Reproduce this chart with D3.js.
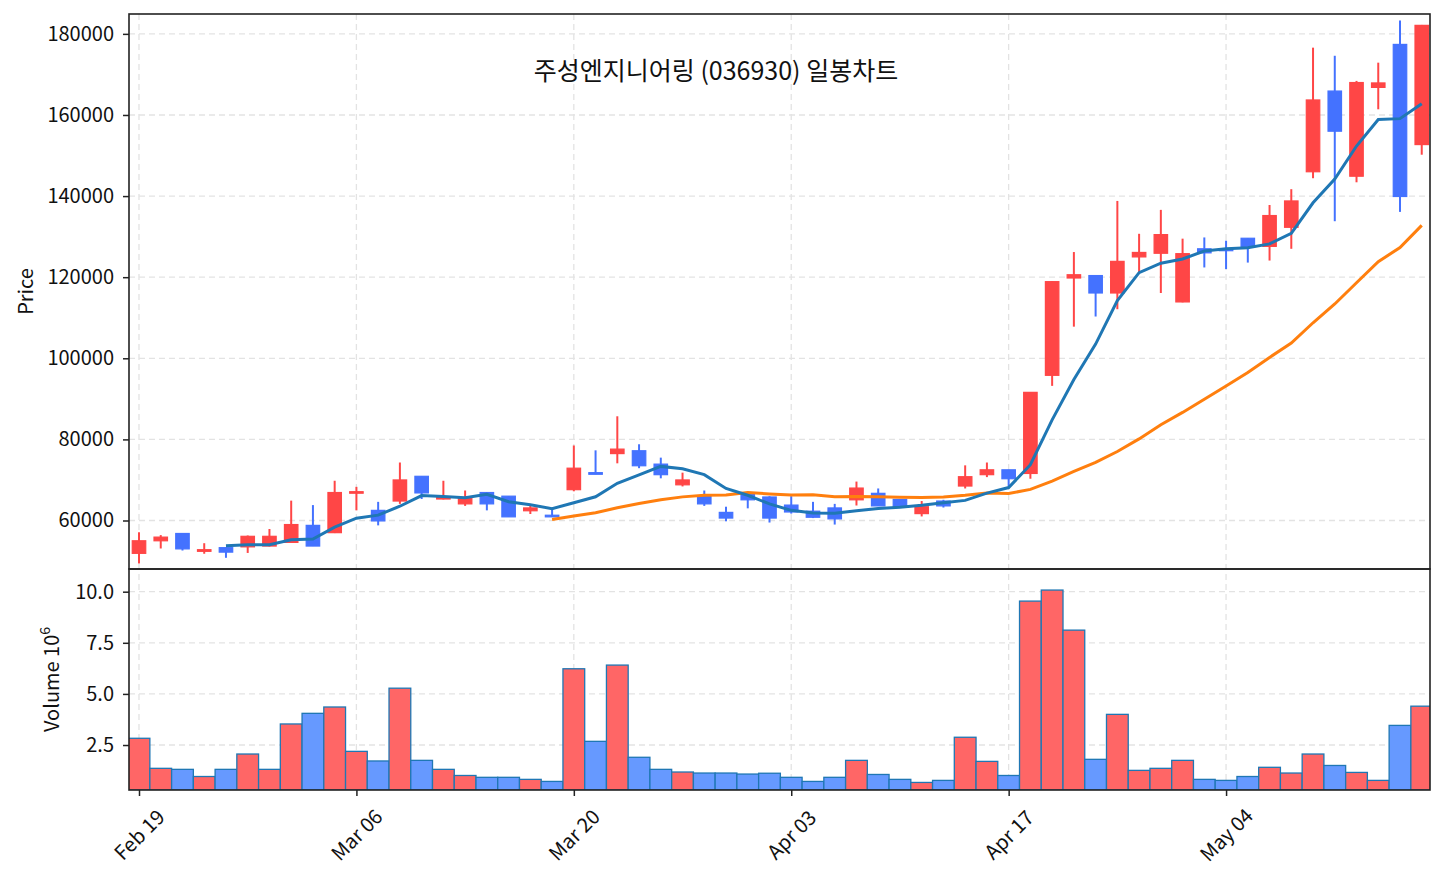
<!DOCTYPE html>
<html>
<head>
<meta charset="utf-8">
<script src="https://cdn.jsdelivr.net/npm/d3@7"></script>
<style>
  body { margin: 0; background: #fff; }
  text { font-family: "Noto Sans CJK KR", "Noto Sans", sans-serif; fill: #111; }
</style>
</head>
<body>
<div id="chart"></div>
<script>
const tickIndex = [0, 10, 20, 30, 40, 50];
const tickLabels = ["Feb 19", "Mar 06", "Mar 20", "Apr 03", "Apr 17", "May 04"];

const open = [51900, 55000, 56800, 52400, 53300, 53500, 53700, 54600, 58800, 57000,
    66800, 62500, 64800, 70900, 65300, 64100, 66900, 66000, 62400, 61300,
    67600, 71800, 76500, 77200, 73900, 68800, 65900, 62000, 66400, 65800,
    63800, 62300, 63100, 65100, 66700, 65200, 61700, 64800, 68500, 71300,
    72500, 71600, 95800, 119800, 120400, 116100, 125000, 125900, 113900, 127000,
    126900, 129600, 127600, 132300, 146000, 165900, 144900, 166800, 177400, 152700];

const high = [57100, 56400, 56800, 54400, 53400, 56300, 57900, 64900, 63800, 69800,
    68300, 64600, 74300, 70900, 69800, 67400, 67000, 66000, 63600, 63100,
    78500, 77300, 85700, 78800, 75500, 71800, 67400, 63400, 66400, 66000,
    66000, 64600, 64100, 69600, 67900, 65300, 64800, 65100, 73600, 74300,
    72500, 91600, 119000, 126200, 120500, 138800, 130700, 136600, 129500, 129800,
    129000, 129600, 137800, 141700, 176600, 174600, 168400, 172900, 183300, 182200];

const low = [49400, 53100, 52600, 51800, 50800, 52000, 53600, 54500, 53700, 56900,
    62500, 58800, 64100, 65300, 65200, 63600, 62500, 60900, 61600, 60900,
    67200, 71400, 74100, 72900, 70400, 68400, 63600, 59800, 63000, 59500,
    61700, 60600, 59000, 63700, 63600, 63400, 61000, 63200, 67900, 70700,
    68400, 70300, 93200, 107800, 110300, 112100, 121200, 116100, 113800, 122400,
    122000, 123600, 124100, 127000, 144400, 133800, 143400, 161400, 136100, 150200];

const close = [55000, 55900, 53000, 52800, 52200, 56100, 56100, 59000, 53700, 66900,
    67100, 59900, 70000, 66800, 65700, 65600, 64100, 60900, 63100, 60900,
    72900, 71400, 77600, 73500, 71300, 70000, 64100, 60600, 65100, 60600,
    62100, 60800, 60400, 68000, 63600, 63400, 63400, 63600, 70800, 72500,
    70300, 91600, 118900, 120600, 116100, 123900, 126100, 130500, 125800, 126000,
    126600, 127400, 135200, 138800, 163700, 156000, 168000, 167900, 139900, 182100];

// volume in millions
const volume = [2.83, 1.36, 1.31, 0.96, 1.31, 2.06, 1.31, 3.53, 4.05, 4.36,
    2.19, 1.72, 5.28, 1.75, 1.31, 1.01, 0.92, 0.92, 0.82, 0.72,
    6.23, 2.68, 6.41, 1.90, 1.31, 1.18, 1.13, 1.13, 1.08, 1.12,
    0.92, 0.72, 0.92, 1.75, 1.06, 0.82, 0.67, 0.77, 2.88, 1.70,
    1.01, 9.54, 10.08, 8.12, 1.80, 4.00, 1.26, 1.36, 1.75, 0.82,
    0.77, 0.96, 1.41, 1.13, 2.06, 1.50, 1.16, 0.77, 3.46, 4.40];

const priceTicks = [60000, 80000, 100000, 120000, 140000, 160000, 180000];
const volTicks = [2.5, 5.0, 7.5, 10.0];

const data = open.map((o, i) => ({
    i: i, open: o, high: high[i], low: low[i], close: close[i], volume: volume[i]
}));

// moving averages of close
function movingAvg(n) {
    return data.map((d, i) => i < n - 1 ? null : d3.mean(close.slice(i - n + 1, i + 1)));
}
const ma5 = movingAvg(5);
const ma20 = movingAvg(20);

const width = 1446;
const height = 884;
const left = 129, right = 1430;
const pTop = 14, pBottom = 569, vBottom = 790;

const upColor = "#ff4646";
const downColor = "#4472ff";
const fontSize = "20px";

const svg = d3.select("#chart")
    .append("svg")
    .attr("width", width)
    .attr("height", height);

const x = d3.scaleLinear()
    .domain([-0.46, 59.38])
    .range([left, right]);

const yPrice = d3.scaleLinear()
    .domain([48040, 184900])
    .range([pBottom, pTop]);

const yVol = d3.scaleLinear()
    .domain([0.30, 11.11])
    .range([vBottom, pBottom]);

const defs = svg.append("defs");
defs.append("clipPath").attr("id", "clipP")
    .append("rect").attr("x", left).attr("y", pTop).attr("width", right - left).attr("height", pBottom - pTop);
defs.append("clipPath").attr("id", "clipV")
    .append("rect").attr("x", left).attr("y", pBottom).attr("width", right - left).attr("height", vBottom - pBottom);

// grid
const grid = svg.append("g")
    .attr("stroke", "#e3e3e3")
    .attr("stroke-width", 1.3)
    .attr("stroke-dasharray", "6,4");

grid.selectAll(".gx")
    .data(tickIndex)
    .enter()
    .append("line")
    .attr("x1", d => x(d)).attr("x2", d => x(d))
    .attr("y1", pTop).attr("y2", vBottom);

grid.selectAll(".gyp")
    .data(priceTicks)
    .enter()
    .append("line")
    .attr("x1", left).attr("x2", right)
    .attr("y1", d => yPrice(d)).attr("y2", d => yPrice(d));

grid.selectAll(".gyv")
    .data(volTicks)
    .enter()
    .append("line")
    .attr("x1", left).attr("x2", right)
    .attr("y1", d => yVol(d)).attr("y2", d => yVol(d));

// candles
const bodyW = x(0.31) - x(0);
const candles = svg.append("g").attr("clip-path", "url(#clipP)");

candles.selectAll(".wick")
    .data(data)
    .enter()
    .append("line")
    .attr("x1", d => x(d.i)).attr("x2", d => x(d.i))
    .attr("y1", d => yPrice(d.high)).attr("y2", d => yPrice(d.low))
    .attr("stroke", d => d.close >= d.open ? upColor : downColor)
    .attr("stroke-width", 2);

candles.selectAll(".body")
    .data(data)
    .enter()
    .append("rect")
    .attr("x", d => x(d.i) - bodyW)
    .attr("width", bodyW * 2)
    .attr("y", d => yPrice(Math.max(d.open, d.close)))
    .attr("height", d => Math.max(1.5, Math.abs(yPrice(d.open) - yPrice(d.close))))
    .attr("fill", d => d.close >= d.open ? upColor : downColor)
    .attr("stroke", d => d.close >= d.open ? upColor : downColor)
    .attr("stroke-width", 1.2);

// moving averages
const maLine = d3.line()
    .defined(d => d != null)
    .x((d, i) => x(i))
    .y(d => yPrice(d));

candles.append("path")
    .datum(ma20)
    .attr("fill", "none")
    .attr("stroke", "#ff7f0e")
    .attr("stroke-width", 3)
    .attr("d", maLine);

candles.append("path")
    .datum(ma5)
    .attr("fill", "none")
    .attr("stroke", "#1f77b4")
    .attr("stroke-width", 3)
    .attr("d", maLine);

// volume bars
const barW = x(1) - x(0);
svg.append("g")
    .attr("clip-path", "url(#clipV)")
    .selectAll(".vol")
    .data(data)
    .enter()
    .append("rect")
    .attr("x", d => x(d.i) - barW / 2)
    .attr("width", barW)
    .attr("y", d => yVol(d.volume))
    .attr("height", d => vBottom - yVol(d.volume))
    .attr("fill", d => d.close >= d.open ? "#ff6666" : "#6699ff")
    .attr("stroke", "#1f77b4")
    .attr("stroke-width", 1.3);

// axes
const axP = svg.append("g")
    .attr("transform", `translate(${left},0)`)
    .call(d3.axisLeft(yPrice).tickValues(priceTicks).tickFormat(d3.format("d")).tickSize(6).tickPadding(9));

const axV = svg.append("g")
    .attr("transform", `translate(${left},0)`)
    .call(d3.axisLeft(yVol).tickValues(volTicks).tickFormat(d3.format(".1f")).tickSize(6).tickPadding(9));

const axX = svg.append("g")
    .attr("transform", `translate(0,${vBottom})`)
    .call(d3.axisBottom(x).tickValues(tickIndex).tickFormat((d, i) => tickLabels[i]).tickSize(6));

[axP, axV, axX].forEach(a => {
    a.select(".domain").remove();
    a.selectAll(".tick line").attr("stroke", "#222").attr("stroke-width", 1.5);
    a.selectAll("text").style("font-size", fontSize).attr("fill", "#111");
});

axX.selectAll("text")
    .attr("y", 0)
    .attr("dy", null)
    .attr("text-anchor", "middle")
    .attr("dominant-baseline", "central")
    .attr("transform", "translate(-1,44) rotate(-45)");

// frames
svg.append("rect")
    .attr("x", left).attr("y", pTop)
    .attr("width", right - left).attr("height", pBottom - pTop)
    .attr("fill", "none").attr("stroke", "#222").attr("stroke-width", 1.6);

svg.append("rect")
    .attr("x", left).attr("y", pBottom)
    .attr("width", right - left).attr("height", vBottom - pBottom)
    .attr("fill", "none").attr("stroke", "#222").attr("stroke-width", 1.6);

// labels
svg.append("text")
    .attr("x", 716)
    .attr("y", 80)
    .attr("text-anchor", "middle")
    .style("font-size", "25px")
    .text("주성엔지니어링 (036930) 일봉차트");

svg.append("text")
    .attr("transform", `translate(33,${(pTop + pBottom) / 2}) rotate(-90)`)
    .attr("text-anchor", "middle")
    .style("font-size", fontSize)
    .text("Price");

const vLabel = svg.append("text")
    .attr("transform", `translate(59,${(pBottom + vBottom) / 2}) rotate(-90)`)
    .attr("text-anchor", "middle")
    .style("font-size", fontSize)
    .text("Volume  10");

vLabel.append("tspan")
    .attr("dy", -9)
    .style("font-size", "14px")
    .text("6");
</script>
</body>
</html>
